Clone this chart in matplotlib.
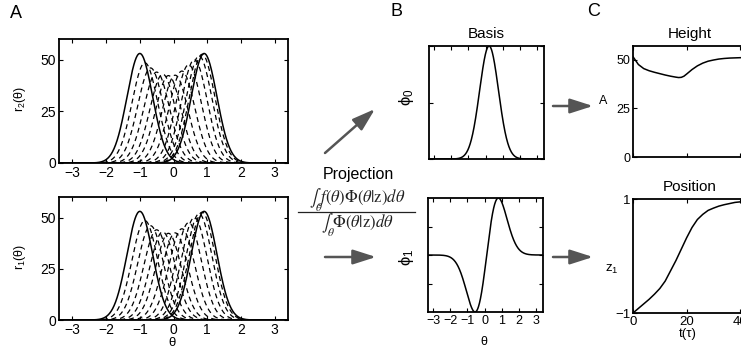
import numpy as np
import matplotlib
matplotlib.use("Agg")
import matplotlib.pyplot as plt
from matplotlib.patches import FancyArrowPatch
from matplotlib.lines import Line2D

plt.rcParams["font.family"] = ["Liberation Sans", "DejaVu Sans"]
plt.rcParams["mathtext.fontset"] = "custom"
plt.rcParams["mathtext.rm"] = "Liberation Sans"
plt.rcParams["mathtext.it"] = "Liberation Sans:italic"
plt.rcParams["mathtext.sf"] = "Liberation Sans"

# Panel A : bumps r(theta), peak position / peak height (first and last drawn solid)
bump_centres = [-1.0, -0.85, -0.68, -0.5, -0.32, -0.15, 0.05, 0.25, 0.45, 0.62, 0.76, 0.85, 0.91]
bump_heights = [53.0, 48.5, 46.0, 44.0, 43.0, 42.3, 42.5, 44.5, 47.5, 50.0, 51.8, 52.6, 53.0]
bump_width = 0.38
a_xticks = [-3, -2, -1, 0, 1, 2, 3]
a_yticks = [0, 25, 50]

# Panel B : basis functions (centre, width)
phi0_centre, phi0_width = 0.2, 0.55
phi1_centre, phi1_width = 0.12, 0.68
b_xticks = [-3, -2, -1, 0, 1, 2, 3]

# Panel C : height and position of the bump over time
t_height = [0, 1, 2, 4, 6, 8, 10, 12, 14, 16, 17, 18, 19, 20, 22, 24, 26, 28, 30, 32, 34, 36, 38, 40, 42]
height = [51.5, 49.5, 47.5, 45.4, 44.3, 43.5, 42.8, 42.1, 41.5, 41.0, 40.8, 40.9, 41.5, 42.6,
          44.9, 46.8, 48.2, 49.2, 49.8, 50.3, 50.6, 50.8, 50.9, 51.0, 51.0]
t_pos = [0, 2, 4, 6, 8, 10, 12, 14, 16, 18, 20, 22, 24, 26, 28, 30, 32, 34, 36, 38, 40, 42]
position = [-1.0, -0.92, -0.84, -0.76, -0.67, -0.57, -0.44, -0.26, -0.08, 0.12, 0.32, 0.50,
            0.64, 0.73, 0.80, 0.84, 0.875, 0.90, 0.92, 0.94, 0.95, 0.96]

W, H = 741, 356
fig = plt.figure(figsize=(W / 100, H / 100), dpi=100)


def box(x0, y0, x1, y1):
    # pixel box (top-left origin) -> figure fraction rect
    return [x0 / W, (H - y1) / H, (x1 - x0) / W, (y1 - y0) / H]


def px(x, y):
    return x / W, (H - y) / H


def style(ax, size):
    ax.tick_params(direction="in", top=True, right=True, length=3, width=0.8,
                   labelsize=size, pad=2)
    for s in ax.spines.values():
        s.set_linewidth(1.3)


theta = np.linspace(-3.4, 3.4, 600)

# ---- A
for y0, y1, lab in [(39, 163, r"r$_2$(θ)"), (197, 320, r"r$_1$(θ)")]:
    ax = fig.add_axes(box(59, y0, 288, y1))
    n = len(bump_centres)
    for i, (c, h) in enumerate(zip(bump_centres, bump_heights)):
        r = h * np.exp(-(theta - c) ** 2 / (2 * bump_width ** 2))
        if i == 0 or i == n - 1:
            ax.plot(theta, r, color="black", lw=1.1)
        else:
            ax.plot(theta, r, color="black", lw=0.9, ls=(0, (4, 3)))
    ax.set_xlim(-3.4, 3.4)
    ax.set_ylim(0, 60)
    ax.set_xticks(a_xticks)
    ax.set_yticks(a_yticks)
    style(ax, 10)
    fig.text(*px(20, (y0 + y1) / 2 - 2), lab, rotation=90, ha="center", va="center", fontsize=9)

fig.text(*px(172, 343), "θ", ha="center", va="center", fontsize=9.5)

# ---- B
ax = fig.add_axes(box(429, 46, 544, 159))
ax.plot(theta, np.exp(-(theta - phi0_centre) ** 2 / (2 * phi0_width ** 2)), color="black", lw=1.1)
ax.set_xlim(-3.3, 3.4)
ax.set_ylim(0, 1)
ax.set_xticks(b_xticks)
ax.set_xticklabels([])
ax.set_yticks([0, 0.5, 1])
ax.set_yticklabels([])
style(ax, 9)
ax.set_title("Basis", fontsize=11, pad=6)
fig.text(*px(407, 97), r"ϕ$_0$", rotation=90, ha="center", va="center", fontsize=12)

ax = fig.add_axes(box(428, 198, 543, 312))
u = theta - phi1_centre
p1 = u * np.exp(-u ** 2 / (2 * phi1_width ** 2))
ax.plot(theta, p1 / np.abs(p1).max(), color="black", lw=1.1)
ax.set_xlim(-3.3, 3.4)
ax.set_ylim(-1, 1)
ax.set_xticks(b_xticks)
ax.set_yticks([-0.5, 0, 0.5])
ax.set_yticklabels([])
style(ax, 9)
fig.text(*px(407, 257), r"ϕ$_1$", rotation=90, ha="center", va="center", fontsize=12)
fig.text(*px(484, 342), "θ", ha="center", va="center", fontsize=9)

# ---- C
ax = fig.add_axes(box(633, 46, 747, 157))
ax.plot(t_height, height, color="black", lw=1.1)
ax.set_xlim(0, 42.5)
ax.set_ylim(0, 57)
ax.set_xticks([0, 20, 40])
ax.set_xticklabels([])
ax.set_yticks([0, 25, 50])
style(ax, 9)
ax.set_title("Height", fontsize=11, pad=6)
fig.text(*px(603, 101), "A", ha="center", va="center", fontsize=9)

ax = fig.add_axes(box(633, 199, 747, 313))
ax.plot(t_pos, position, color="black", lw=1.1)
ax.set_xlim(0, 42.5)
ax.set_ylim(-1, 1)
ax.set_xticks([0, 20, 40])
ax.set_yticks([-1, 1])
style(ax, 9.5)
ax.set_title("Position", fontsize=11, pad=6)
fig.text(*px(612, 269), r"z$_1$", ha="center", va="center", fontsize=9.5)
fig.text(*px(688, 334), "t(τ)", ha="center", va="center", fontsize=9.5)

# ---- panel letters and projection text
fig.text(*px(16, 13), "A", ha="center", va="center", fontsize=13)
fig.text(*px(396, 11), "B", ha="center", va="center", fontsize=13)
fig.text(*px(594, 12), "C", ha="center", va="center", fontsize=13)
fig.text(*px(358, 175), "Projection", ha="center", va="center", fontsize=11.5)

# projection formula, numerator / bar / denominator
fig.text(*px(357, 200), r"$\int_\theta f(\theta)\Phi(\theta|\mathrm{z})d\theta$",
         ha="center", va="center", fontsize=12, math_fontfamily="stix", color="#222222")
fig.add_artist(Line2D([298 / W, 415 / W], [(H - 212) / H] * 2, color="#222222", lw=0.9))
fig.text(*px(357, 225), r"$\int_\theta \Phi(\theta|\mathrm{z})d\theta$",
         ha="center", va="center", fontsize=12, math_fontfamily="stix", color="#222222")

# ---- arrows
for (xa, ya), (xb, yb) in [((325, 153), (375, 109)), ((325, 257), (376, 257)),
                           ((553, 106), (593, 106)), ((553, 257), (593, 257))]:
    fig.add_artist(FancyArrowPatch(px(xa, ya), px(xb, yb), transform=fig.transFigure,
                                   arrowstyle="-|>,head_length=1.0,head_width=0.32",
                                   mutation_scale=14, color="#555555", lw=1.8,
                                   shrinkA=0, shrinkB=0))

fig.savefig("out.png", dpi=100)
